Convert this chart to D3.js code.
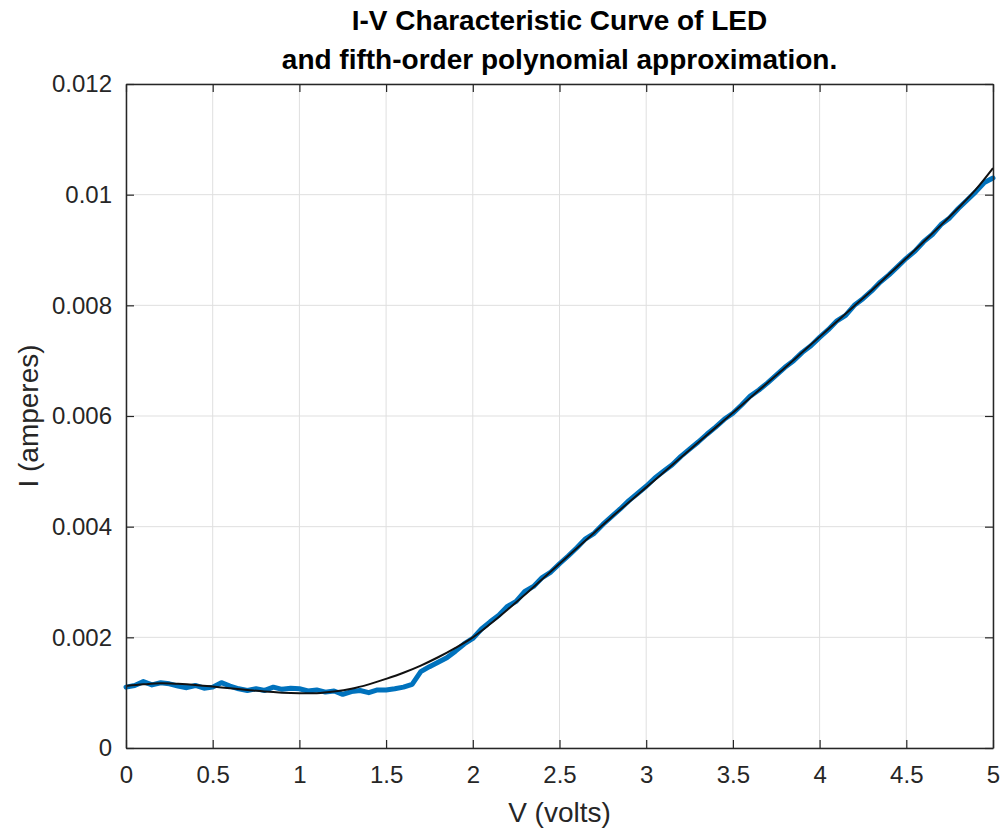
<!DOCTYPE html>
<html><head><meta charset="utf-8">
<script src="https://cdn.jsdelivr.net/npm/d3@7"></script>
<style>body{margin:0;background:#fff}</style>
</head><body>
<svg id="c" width="1003" height="831"></svg>
<script>
const titleLines = ["I-V Characteristic Curve of LED", "and fifth-order polynomial approximation."];
const xLabel = "V (volts)";
const yLabel = "I (amperes)";
const xTicks = [0,0.5,1,1.5,2,2.5,3,3.5,4,4.5,5];
const yTicks = [0,0.002,0.004,0.006,0.008,0.01,0.012];

// measured data (blue)
const measV = [0.00,0.05,0.10,0.15,0.20,0.25,0.30,0.35,0.40,0.45,0.50,0.55,0.60,0.65,0.70,0.75,0.80,0.85,0.90,0.95,
1.00,1.05,1.10,1.15,1.20,1.25,1.30,1.35,1.40,1.45,1.50,1.55,1.60,1.65,1.70,1.75,1.80,1.85,1.90,1.95,
2.00,2.05,2.10,2.15,2.20,2.25,2.30,2.35,2.40,2.45,2.50,2.55,2.60,2.65,2.70,2.75,2.80,2.85,2.90,2.95,
3.00,3.05,3.10,3.15,3.20,3.25,3.30,3.35,3.40,3.45,3.50,3.55,3.60,3.65,3.70,3.75,3.80,3.85,3.90,3.95,
4.00,4.05,4.10,4.15,4.20,4.25,4.30,4.35,4.40,4.45,4.50,4.55,4.60,4.65,4.70,4.75,4.80,4.85,4.90,4.95,5.00];
const measI = [0.00110,0.00113,0.00120,0.00114,0.00118,0.00116,0.00112,0.00109,0.00113,0.00108,0.00110,0.00118,0.00112,0.00107,0.00104,0.00107,0.00104,0.00110,0.00106,0.00108,
0.00107,0.00103,0.00105,0.00101,0.00103,0.00097,0.00102,0.00104,0.00100,0.00105,0.00105,0.00107,0.00110,0.00115,0.00138,0.00147,0.00155,0.00163,0.00175,0.00188,
0.00198,0.00215,0.00228,0.00240,0.00256,0.00265,0.00283,0.00292,0.00308,0.00318,0.00333,0.00347,0.00362,0.00378,0.00388,0.00404,0.00418,0.00432,0.00447,0.00460,
0.00473,0.00488,0.00500,0.00512,0.00527,0.00540,0.00553,0.00567,0.00580,0.00594,0.00605,0.00620,0.00636,0.00647,0.00660,0.00674,0.00688,0.00700,0.00715,0.00727,
0.00742,0.00756,0.00772,0.00782,0.00800,0.00812,0.00826,0.00842,0.00855,0.00870,0.00885,0.00898,0.00915,0.00928,0.00946,0.00958,0.00975,0.00990,0.01005,0.01022,0.01030];

// polynomial fit (black), read at 0.1 V steps
const fitV = [0,0.1,0.2,0.3,0.4,0.5,0.6,0.7,0.8,0.9,1.0,1.1,1.2,1.3,1.4,1.5,1.6,1.7,1.8,1.9,
2.0,2.1,2.2,2.3,2.4,2.5,2.6,2.7,2.8,2.9,3.0,3.1,3.2,3.3,3.4,3.5,3.6,3.7,3.8,3.9,
4.0,4.1,4.2,4.3,4.4,4.5,4.6,4.7,4.8,4.9,5.0];
const fitI = [0.00112,0.00115,0.00117,0.00116,0.00114,0.00111,0.00108,0.00105,0.00102,0.00100,0.00099,0.00099,0.00102,0.00107,0.00115,0.00125,0.00136,0.00149,0.00164,0.00181,
0.00200,0.00224,0.00250,0.00277,0.00305,0.00333,0.00361,0.00389,0.00417,0.00444,0.00471,0.00498,0.00525,0.00552,0.00579,0.00606,0.00633,0.00660,0.00687,0.00715,
0.00743,0.00771,0.00799,0.00827,0.00856,0.00885,0.00915,0.00945,0.00976,0.01009,0.01048];

const svg = d3.select("#c");
const L = 126, R = 993, T = 84, B = 748;
const x = d3.scaleLinear().domain([0,5]).range([L,R]);
const y = d3.scaleLinear().domain([0,0.012]).range([B,T]);
const axisCol = "#262626";
const font = "'Liberation Sans', Arial, Helvetica, sans-serif";

// grid
const g = svg.append("g");
g.selectAll(".gx").data(xTicks).join("line")
  .attr("x1",d=>x(d)).attr("x2",d=>x(d)).attr("y1",T).attr("y2",B)
  .attr("stroke","#dfdfdf").attr("stroke-width",1);
g.selectAll(".gy").data(yTicks).join("line")
  .attr("y1",d=>y(d)).attr("y2",d=>y(d)).attr("x1",L).attr("x2",R)
  .attr("stroke","#dfdfdf").attr("stroke-width",1);

// data lines
const lineM = d3.line().x((d,i)=>x(measV[i])).y(d=>y(d));
svg.append("path").attr("d", lineM(measI)).attr("fill","none")
  .attr("stroke","#0072BD").attr("stroke-width",5).attr("stroke-linejoin","round").attr("stroke-linecap","round");
const lineF = d3.line().x((d,i)=>x(fitV[i])).y(d=>y(d)).curve(d3.curveCatmullRom);
svg.append("path").attr("d", lineF(fitI)).attr("fill","none")
  .attr("stroke","#111").attr("stroke-width",2);

// axes
const tickLen = 8;
const xa = svg.append("g").attr("transform",`translate(0,${B})`)
  .call(d3.axisBottom(x).tickValues(xTicks).tickFormat(d3.format("~g")).tickSizeInner(-tickLen).tickSizeOuter(0).tickPadding(18));
const xt = svg.append("g").attr("transform",`translate(0,${T})`)
  .call(d3.axisTop(x).tickValues(xTicks).tickFormat("").tickSizeInner(-tickLen).tickSizeOuter(0));
const ya = svg.append("g").attr("transform",`translate(${L},0)`)
  .call(d3.axisLeft(y).tickValues(yTicks).tickFormat(d3.format("~g")).tickSizeInner(-tickLen).tickSizeOuter(0).tickPadding(14));
const yr = svg.append("g").attr("transform",`translate(${R},0)`)
  .call(d3.axisRight(y).tickValues(yTicks).tickFormat("").tickSizeInner(-tickLen).tickSizeOuter(0));
[xa,xt,ya,yr].forEach(a=>{
  a.selectAll("path").attr("stroke",axisCol).attr("stroke-width",1.5);
  a.selectAll("line").attr("stroke",axisCol).attr("stroke-width",1.2);
  a.selectAll("text").attr("fill",axisCol).attr("font-family",font).attr("font-size",24);
});

// labels
svg.append("text").attr("x",(L+R)/2).attr("y",822).attr("text-anchor","middle")
  .attr("font-family",font).attr("font-size",28).attr("fill",axisCol).text(xLabel);
svg.append("text").attr("transform",`translate(38,${(T+B)/2}) rotate(-90)`).attr("text-anchor","middle")
  .attr("font-family",font).attr("font-size",28).attr("fill",axisCol).text(yLabel);
svg.selectAll(".title").data(titleLines).join("text")
  .attr("x",(L+R)/2).attr("y",(d,i)=>30+i*39).attr("text-anchor","middle")
  .attr("font-family",font).attr("font-weight","bold").attr("font-size",28).attr("fill","#000").text(d=>d);
</script>
</body></html>
